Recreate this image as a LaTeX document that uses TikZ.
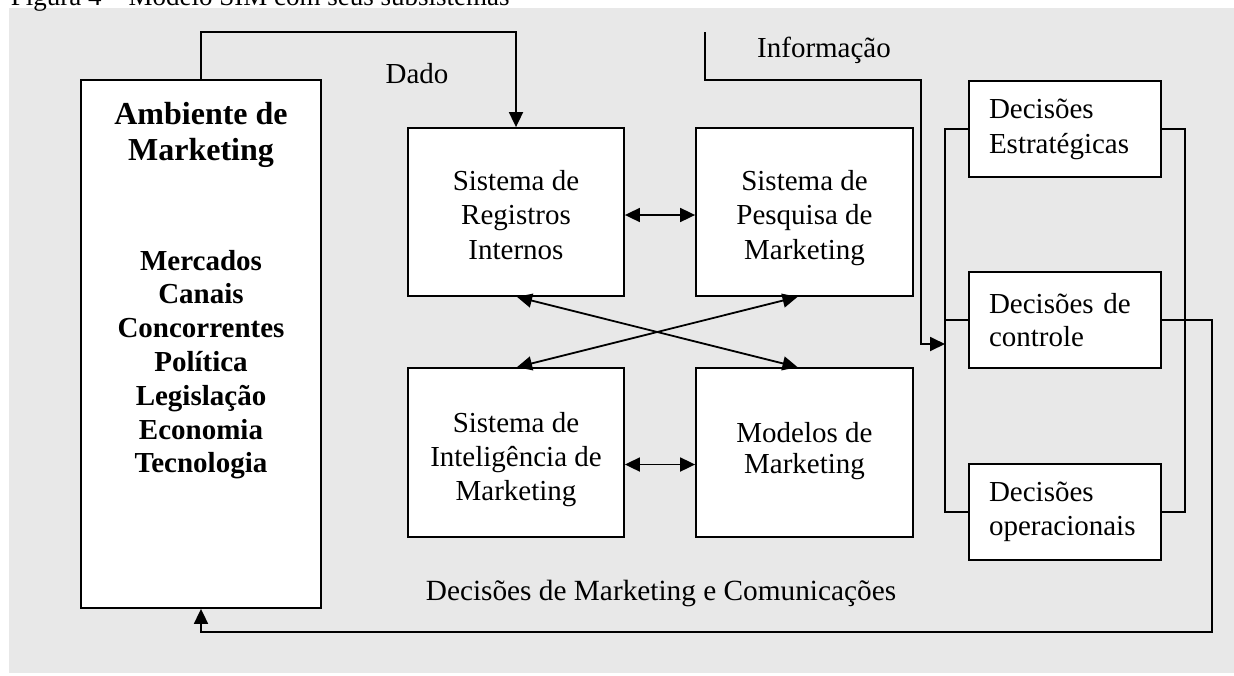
\documentclass[tikz,border=0pt]{standalone}
\usepackage{fontspec}
\setmainfont{Liberation Serif}
\usetikzlibrary{arrows.meta}
\definecolor{bggray}{RGB}{232,232,232}
\tikzset{
  boxnode/.style={draw, fill=white, line width=1.8pt, inner sep=0pt},
  decbox/.style={draw, fill=white, line width=1.8pt, minimum width=192pt, minimum height=96pt, text width=152pt, inner xsep=20pt, inner ysep=0pt, align=left},
  txt/.style={font=\fontsize{29}{35}\selectfont, align=center, inner sep=0pt, text depth=0pt},
  tip/.style={Triangle[length=15pt,width=14pt]},
  arr/.style={-{Triangle[length=15pt,width=14pt]}},
  darr/.style={{Triangle[length=15pt,width=14pt]}-{Triangle[length=15pt,width=14pt]}},
}
\begin{document}
\begin{tikzpicture}[x=1pt, y=-1pt, line width=1.8pt]
\useasboundingbox (0,0) rectangle (1234,675);
\clip (0,0) rectangle (1234,675);
\fill[white] (0,0) rectangle (1234,675);
\fill[bggray] (9,8) rectangle (1234,673);
\node[anchor=base west, inner sep=0pt, font=\fontsize{27}{32}\selectfont] (title) at (10,5) {Figura 4 -- Modelo SIM com seus subsistemas};

% left box
\node[boxnode, minimum width=240pt, minimum height=528pt] (amb) at (201,344) {};
\node[txt, font=\bfseries\fontsize{32}{36}\selectfont] (ambt) at (201,131.5) {Ambiente de\\Marketing};
\node[txt, font=\bfseries\fontsize{29}{33.8}\selectfont] (ambl) at (201,361.5) {Mercados\\Canais\\Concorrentes\\Política\\Legislação\\Economia\\Tecnologia};

% central boxes
\node[boxnode, minimum width=216pt, minimum height=168pt] (reg) at (516,212) {};
\node[boxnode, minimum width=217pt, minimum height=168pt] (pes) at (804.5,212) {};
\node[boxnode, minimum width=216pt, minimum height=169pt] (int) at (516,452.5) {};
\node[boxnode, minimum width=217pt, minimum height=169pt] (mod) at (804.5,452.5) {};
\node[txt, font=\fontsize{29}{34.5}\selectfont] (regt) at (516,214.5) {Sistema de\\Registros\\Internos};
\node[txt, font=\fontsize{29}{34.5}\selectfont] (pest) at (804.5,214.5) {Sistema de\\Pesquisa de\\Marketing};
\node[txt, font=\fontsize{29}{34}\selectfont] (intt) at (516,456.5) {Sistema de\\Inteligência de\\Marketing};
\node[txt, font=\fontsize{29}{31.5}\selectfont] (modt) at (804.5,448) {Modelos de\\Marketing};

% decision boxes
\node[decbox, font=\fontsize{29}{35}\selectfont] (est) at (1065,129) {Decisões\\Estratégicas};
\node[decbox, font=\fontsize{29}{33}\selectfont] (ctl) at (1065,320) {Decisões de\\controle};
\node[decbox, font=\fontsize{29}{34}\selectfont] (ope) at (1065,512) {Decisões\\operacionais};

% labels
\node[txt] (dado) at (417,73) {Dado};
\node[txt] (info) at (824,47) {Informação};
\node[txt, font=\fontsize{29.3}{35}\selectfont] (dmc) at (661,590) {Decisões de Marketing e Comunicações};

% coordinates
\coordinate (d1) at (201,32);
\coordinate (d2) at (516,32);
\coordinate (i1) at (705,32);
\coordinate (i2) at (705,80);
\coordinate (i3) at (921,80);
\coordinate (i4) at (921,344);
\coordinate (lb) at (945,0);
\coordinate (rb) at (1185,0);
\coordinate (c1) at (1212,320);
\coordinate (c2) at (1212,632);
\coordinate (c3) at (201,632);

% connectors
\draw[arr] (amb.north) -- (d1) -- (d2) -- (reg.north);
\draw[darr] ([yshift=-3pt]reg.east) -- ([yshift=-3pt]pes.west);
\draw[darr] ([yshift=-12pt]int.east) -- ([yshift=-12pt]mod.west);
\draw[darr] ([xshift=1pt]reg.south) -- ([xshift=-7pt]mod.north);
\draw[darr] ([xshift=-7pt]pes.south) -- ([xshift=1pt]int.north);
\draw[arr] (i1) -- (i2) -- (i3) -- (i4) -- (i4 -| lb);
\draw (est.west) -- (est.west -| lb) -- (ope.west -| lb) -- (ope.west);
\draw (ctl.west) -- (ctl.west -| lb);
\draw (est.east) -- (est.east -| rb) -- (ope.east -| rb) -- (ope.east);
\draw[arr] (ctl.east) -- (c1) -- (c2) -- (c3) -- (amb.south);
\end{tikzpicture}
\end{document}
